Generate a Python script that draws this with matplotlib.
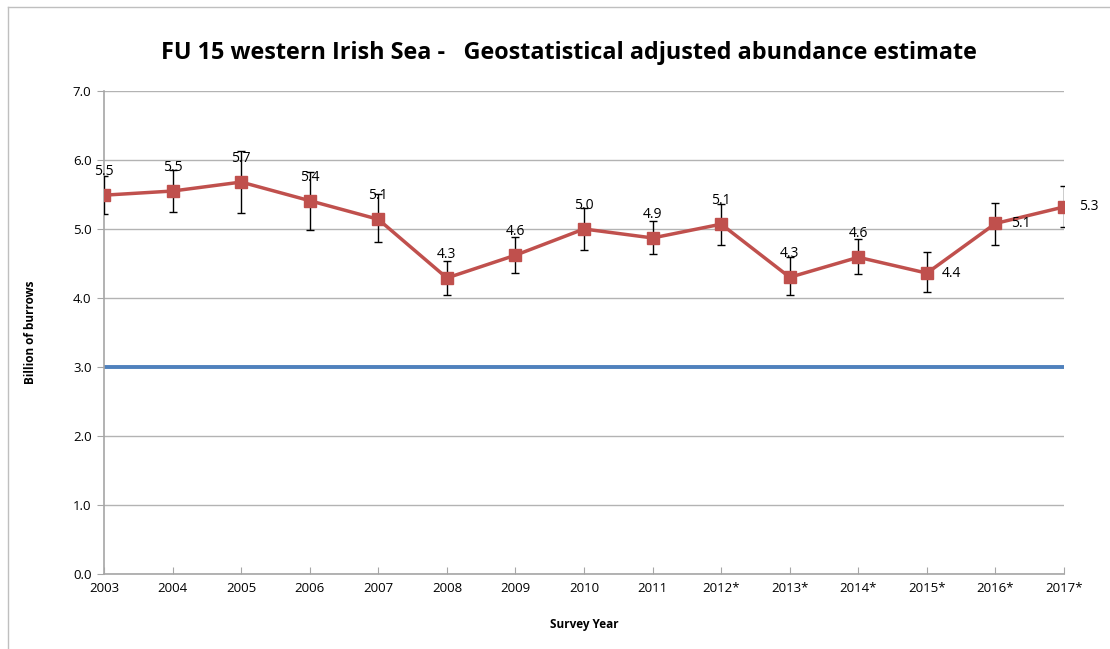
import numpy as np
import matplotlib
matplotlib.use("Agg")
import matplotlib.pyplot as plt
from matplotlib.lines import Line2D

years = ["2003", "2004", "2005", "2006", "2007", "2008", "2009", "2010",
         "2011", "2012*", "2013*", "2014*", "2015*", "2016*", "2017*"]
abundance = [5.49, 5.55, 5.68, 5.41, 5.14, 4.29, 4.62, 5.00,
             4.87, 5.07, 4.30, 4.59, 4.36, 5.08, 5.32]
upper = [5.77, 5.86, 6.13, 5.83, 5.51, 4.54, 4.88, 5.30,
         5.12, 5.36, 4.60, 4.85, 4.67, 5.38, 5.63]
lower = [5.22, 5.25, 5.23, 4.99, 4.81, 4.04, 4.36, 4.69,
         4.64, 4.77, 4.04, 4.35, 4.09, 4.77, 5.03]
labels = ["5.5", "5.5", "5.7", "5.4", "5.1", "4.3", "4.6", "5.0",
          "4.9", "5.1", "4.3", "4.6", "4.4", "5.1", "5.3"]
right_labels = [12, 13, 14]
reference_level = 3.0

plt.rcParams['font.family'] = ['Open Sans', 'DejaVu Sans']

fig = plt.figure(figsize=(11.1, 6.49), dpi=100)
ax = fig.add_axes([0.0937, 0.1156, 0.8649, 0.7442])

x = np.arange(len(years))
val = np.array(abundance)
yerr = [val - np.array(lower), np.array(upper) - val]

ax.axhline(reference_level, color='#4F81BD', lw=2.8, zorder=2)
ax.errorbar(x, val, yerr=yerr, fmt='none', ecolor='black', elinewidth=1,
            capsize=3, capthick=1, zorder=3)
ax.plot(x, val, color='#C0504D', lw=2.5, marker='s', markersize=8,
        markerfacecolor='#C0504D', markeredgecolor='#C0504D', zorder=4)

for i, lab in enumerate(labels):
    if i in right_labels:
        ax.annotate(lab, (x[i], val[i]), xytext=(11, 0), textcoords='offset points',
                    ha='left', va='center', fontsize=10, zorder=5)
    else:
        ax.annotate(lab, (x[i], val[i]), xytext=(0, 17), textcoords='offset points',
                    ha='center', va='center', fontsize=10, zorder=5)

ax.set_xlim(0, len(years) - 1)
ax.set_ylim(0, 7)
ax.set_yticks(np.arange(0, 7.1, 1.0))
ax.set_yticklabels([f"{v:.1f}" for v in np.arange(0, 7.1, 1.0)], fontsize=9.5)
ax.set_xticks(x)
ax.set_xticklabels(years, fontsize=9.5)
ax.yaxis.grid(True, color='#B3B3B3', lw=1)
ax.set_axisbelow(True)

for s in ['top', 'right']:
    ax.spines[s].set_visible(False)
for s in ['left', 'bottom']:
    ax.spines[s].set_color('#A6A6A6')
    ax.spines[s].set_linewidth(1.2)
ax.tick_params(axis='y', direction='out', length=5, color='#A6A6A6', pad=4)
ax.tick_params(axis='x', direction='in', length=5, color='#A6A6A6', pad=6)

ax.set_xlabel('Survey Year', fontsize=8.5, fontweight='bold', labelpad=16)
ax.set_ylabel('Billion of burrows', fontsize=8.5, fontweight='bold', labelpad=26)

fig.text(0.513, 0.918, 'FU 15 western Irish Sea -   Geostatistical adjusted abundance estimate',
         ha='center', va='center', fontsize=16.8, fontweight='bold')

# chart border
fig.add_artist(Line2D([8 / 1110, 1], [1 - 7 / 649, 1 - 7 / 649], color='#BFBFBF', lw=1))
fig.add_artist(Line2D([8 / 1110, 8 / 1110], [0, 1 - 7 / 649], color='#BFBFBF', lw=1))

fig.savefig('out.png', dpi=100)
